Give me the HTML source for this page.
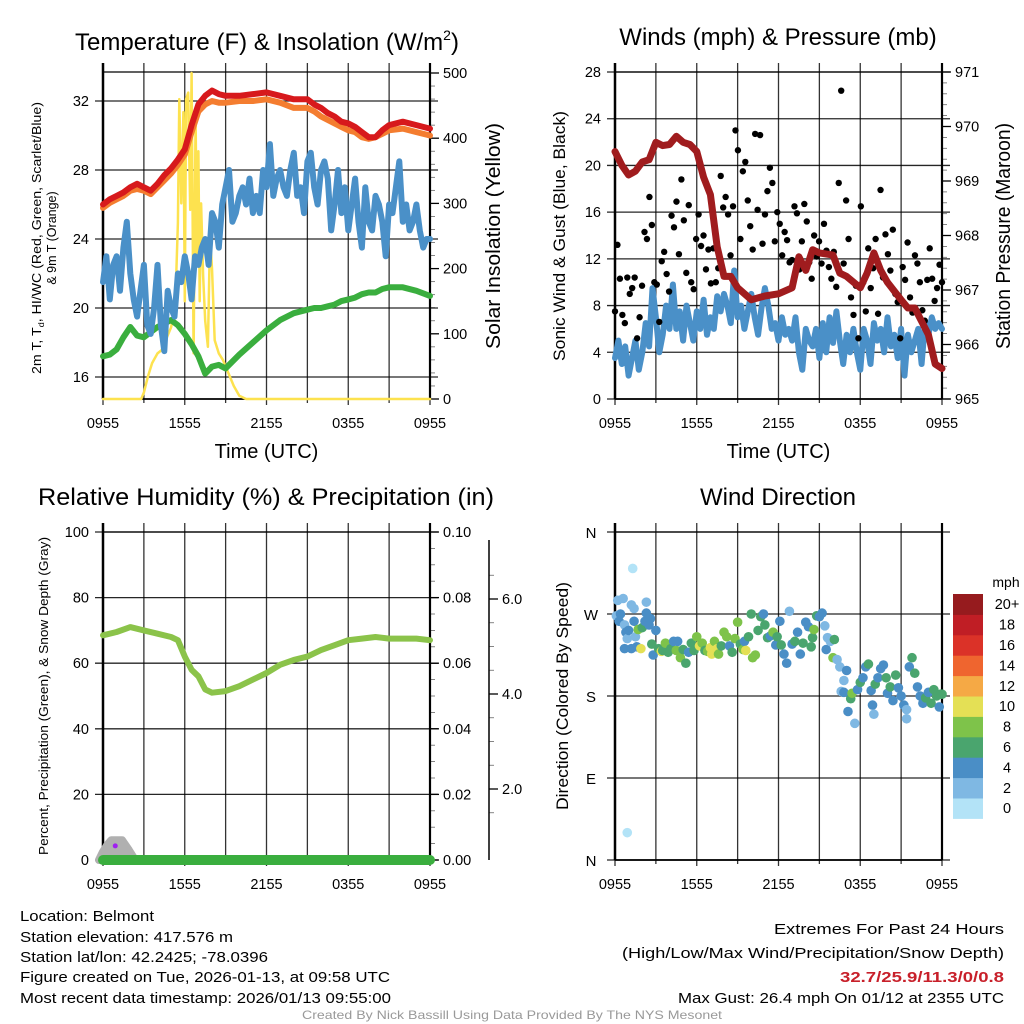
<!DOCTYPE html>
<html><head><meta charset="utf-8"><style>
html,body{margin:0;padding:0;background:#fff}
svg{display:block;font-family:"Liberation Sans",Arial,sans-serif}
</style></head><body>
<svg id="chart" width="1024" height="1024" viewBox="0 0 1024 1024" xmlns="http://www.w3.org/2000/svg">
<rect x="0" y="0" width="1024" height="1024" fill="#fff"/>
<text x="267" y="50" font-size="24" text-anchor="middle">Temperature (F) &amp; Insolation (W/m<tspan font-size="14" dy="-10">2</tspan><tspan dy="10">)</tspan></text>
<text x="778" y="45" font-size="24" text-anchor="middle">Winds (mph) &amp; Pressure (mb)</text>
<text x="266" y="505" font-size="24" text-anchor="middle" textLength="456" lengthAdjust="spacingAndGlyphs">Relative Humidity (%) &amp; Precipitation (in)</text>
<text x="778" y="505" font-size="24" text-anchor="middle">Wind Direction</text>
<g font-size="15">
<text x="20" y="921" textLength="134" lengthAdjust="spacingAndGlyphs">Location: Belmont</text>
<text x="20" y="942" textLength="213" lengthAdjust="spacingAndGlyphs">Station elevation: 417.576 m</text>
<text x="20" y="962" textLength="248" lengthAdjust="spacingAndGlyphs">Station lat/lon: 42.2425; -78.0396</text>
<text x="20" y="982" textLength="370" lengthAdjust="spacingAndGlyphs">Figure created on Tue, 2026-01-13, at 09:58 UTC</text>
<text x="20" y="1003" textLength="371" lengthAdjust="spacingAndGlyphs">Most recent data timestamp: 2026/01/13 09:55:00</text>
</g>
<g font-size="15" text-anchor="end">
<text x="1004" y="934" textLength="230" lengthAdjust="spacingAndGlyphs">Extremes For Past 24 Hours</text>
<text x="1004" y="958" textLength="382" lengthAdjust="spacingAndGlyphs">(High/Low/Max Wind/Precipitation/Snow Depth)</text>
<text x="1004" y="982" font-weight="bold" fill="#c8202a" textLength="164" lengthAdjust="spacingAndGlyphs">32.7/25.9/11.3/0/0.8</text>
<text x="1004" y="1003" textLength="326" lengthAdjust="spacingAndGlyphs">Max Gust: 26.4 mph On 01/12 at 2355 UTC</text>
</g>
<text x="512" y="1019" font-size="12" fill="#999" text-anchor="middle" textLength="420" lengthAdjust="spacingAndGlyphs">Created By Nick Bassill Using Data Provided By The NYS Mesonet</text>
</svg>
<script>
// ---------- DATA ----------
const timeTickLabels = ["0955","1555","2155","0355","0955"];
const tempTickLabels = [16,20,24,28,32];
const solarTickLabels = [0,100,200,300,400,500];
const windTickLabels = [0,4,8,12,16,20,24,28];
const pressTickLabels = [965,966,967,968,969,970,971];
const rhTickLabels = [0,20,40,60,80,100];
const precipTickLabels = ["0.00","0.02","0.04","0.06","0.08","0.10"];
const snowTickLabels = ["2.0","4.0","6.0"];
const dirTickLabels = ["N","E","S","W","N"];
const speedLegendLabels = ["0","2","4","6","8","10","12","14","16","18","20+"];
const speedColors = ["#b3e3f7","#7fb8e3","#4a8ec6","#4aa56e","#7ec34a","#e4e055","#f5a945","#ef652f","#db3228","#c01e25","#961b1e"];

const tempHours = [0,0.5,1,1.5,2,2.5,3,3.5,4,4.5,5,5.5,6,6.5,7,7.5,8,8.5,9,10,11,12,13,14,15,15.5,16,16.5,17,17.5,18,18.5,19,19.5,20,20.5,21,22,23,24];
const tempRed =    [26.0,26.3,26.5,26.7,27.0,27.2,27.0,26.8,27.2,27.7,28.1,28.6,29.2,30.6,31.8,32.3,32.6,32.4,32.3,32.3,32.4,32.5,32.3,32.1,32.1,31.8,31.6,31.3,31.1,30.8,30.7,30.5,30.2,29.9,29.9,30.3,30.6,30.8,30.6,30.4];
const tempOrange = [25.8,26.1,26.3,26.5,26.8,26.9,26.8,26.6,27.0,27.4,27.8,28.3,28.9,30.2,31.4,31.8,32.0,31.9,31.9,32.0,32.0,32.1,31.9,31.6,31.6,31.4,31.1,30.9,30.7,30.5,30.3,30.2,29.9,29.8,29.9,30.1,30.3,30.4,30.2,30.0];
const tempDew =    [17.2,17.3,17.6,18.3,18.9,18.4,18.3,18.6,18.9,19.1,19.3,19.0,18.5,17.9,17.2,16.2,16.6,16.7,16.5,17.3,18.0,18.7,19.3,19.7,19.9,20.0,20.0,20.1,20.2,20.4,20.5,20.6,20.8,20.9,20.9,21.1,21.2,21.2,21.0,20.7];
const tempWindChill = [21.5,23,20.5,22.5,23,21,23.5,25,22,20.5,19.5,21,22.5,19,18.5,20,22.5,19,17.5,21,20,19.5,22,21.5,23,22,20.5,23,22.5,23.5,24,22.5,25.5,25,23.5,26,27,28,25,25.5,26.5,27,26,27.5,25.5,26.5,25.5,28,27,29.5,26.5,27.5,28,27,26.5,28,29,26.5,27,25.5,28.5,29,27,26,28,28.5,27.5,24.5,26,28,25.5,27,24.5,26,27.5,25,23.5,27,25,24.5,26.5,26,25,23,26,25.5,27,28.5,25,26,24.5,25,26,24.5,23.5,24,24];
const solarHours = [0,2.8,3.0,3.3,3.6,4.0,4.3,4.6,5.0,5.3,5.5,5.6,5.75,5.9,6.0,6.1,6.25,6.4,6.5,6.65,6.8,6.9,7.0,7.1,7.2,7.35,7.5,7.7,7.85,8.0,8.2,8.5,8.8,9.2,9.6,10.0,10.5,11,24];
const solarValues = [0,0,10,35,55,70,75,90,110,140,270,460,300,440,150,460,470,290,500,70,430,210,380,150,300,190,120,80,250,200,90,70,60,40,20,5,0,0,0];

const sonicWind = [3.5,5,3,4.5,2,3.5,5,2.5,4,6.5,4.5,9.5,7,4,5.5,8,6,9.8,6,7.5,5,8,6.5,5,7.5,6,8.5,5.5,7,6,8.8,7.5,9,8,6.5,11,7,8,6,7.5,9,7,5.5,7.8,9.5,8,6,6.5,5,7,5.5,6,5,7,4,2.5,6,5,4.5,6,3.5,6.5,4,7,4.8,7.5,5,3,5.5,4,6,4,2.5,6,5,3,6.5,5,6,4,7,4.5,5.5,3.5,6,2,5.5,4,5,6,3,6.5,5.5,7,6,6.5,6];
const gustValues = [7.5,13.2,10.3,7.2,6.5,10.4,9.0,9.5,10.4,5.2,7.0,9.7,14.3,13.7,17.3,14.9,10.0,9.8,6.6,11.8,12.6,10.7,9.2,15.7,14.7,16.9,12.4,18.8,15.3,10.8,16.6,10.0,9.4,13.7,15.8,13.1,14.0,11.1,12.8,9.9,12.9,10.0,11.2,19.1,16.4,17.3,15.8,12.3,16.5,23.0,21.3,13.7,19.5,20.3,17.0,14.8,12.8,22.7,16.2,22.6,13.3,15.8,17.8,19.8,18.5,13.5,16.0,15.0,12.3,14.3,13.6,11.7,11.9,16.5,15.9,11.1,13.5,16.7,15.2,11.7,10.3,14.0,12.2,13.5,11.6,15.0,12.7,11.3,10.3,12.6,9.6,18.5,26.4,11.6,17.0,13.7,8.7,7.2,9.7,5.2,16.5,10.0,7.5,12.9,9.5,11.2,13.7,7.3,17.9,10.4,14.1,12.4,11.0,14.5,9.0,8.3,5.2,11.3,10.2,13.4,8.7,7.4,12.3,11.6,10.0,7.6,6.7,10.2,12.9,10.3,8.4,9.5,11.5,10.0];
const pressHours = [0,0.5,1,1.5,2,2.5,3,3.5,4,4.5,5,5.5,6,6.5,7,7.5,8,8.5,9,10,11,12,13,13.5,14,14.5,15,16,16.5,17,18,18.5,19,19.5,20,21,21.5,22,23,23.5,24];
const pressValues = [969.54,969.29,969.11,969.18,969.35,969.39,969.71,969.65,969.67,969.82,969.71,969.67,969.54,969.07,968.75,967.79,967.25,967.25,967.04,966.82,966.89,966.93,967.04,967.61,967.36,967.74,967.68,967.64,967.31,967.25,967.04,967.31,967.68,967.36,967.14,966.82,966.67,966.67,966.18,965.64,965.56];

const rhHours = [0,1,2,3,4,5,5.5,6,6.5,7,7.5,8,9,10,11,12,13,14,15,16,17,18,19,20,21,22,23,24];
const rhValues = [68.5,69.5,71,70,69,68,67,62,58,56,52,51,51.5,53,55,57,59.5,61,62,64,65.5,67,67.5,68,67.5,67.5,67.5,67];
const precipValues = [0,0,0,0,0];
const snowHours = [0,0.3,0.6,1.4,1.9,2.2];
const snowDepth = [2.5,4.5,6,6,3,1];

const dirHours = [0.1,0.2,0.3,0.4,0.6,0.7,0.8,0.9,0.7,1.0,1.2,1.2,1.3,1.4,1.4,1.5,1.6,1.7,1.9,2.0,2.2,2.3,2.3,2.5,2.6,2.7,2.8,3.0,3.2,3.4,3.5,3.7,3.9,4.1,4.3,4.5,4.6,4.8,5.0,5.2,5.4,5.6,5.8,6.0,6.2,6.4,6.6,6.8,7.0,7.1,7.3,7.5,7.6,7.8,8.0,8.2,8.4,8.6,8.8,9.0,9.2,9.4,9.5,9.6,9.8,10.0,10.1,10.3,10.5,10.7,10.9,11.0,11.2,11.4,11.6,11.8,11.9,12.1,12.2,12.4,12.6,12.8,13.0,13.2,13.4,13.6,13.8,14.0,14.2,14.4,14.5,14.6,14.8,15.0,15.2,15.4,15.5,15.6,15.8,16.0,16.1,16.3,16.5,16.6,16.8,16.8,17.0,17.1,17.3,17.4,17.6,17.8,18.0,18.2,18.4,18.6,18.8,18.9,19.0,19.1,19.3,19.5,19.7,19.9,20.0,20.2,20.4,20.6,20.8,21.0,21.2,21.4,21.4,21.6,21.8,22.0,22.2,22.4,22.6,22.8,23.0,23.2,23.4,23.6,23.8,23.9,24.0,0.9];
const dirDegrees = [268,285,262,270,287,258,250,243,232,252,280,232,320,276,262,245,234,253,232,255,262,271,283,258,265,237,225,252,232,229,230,238,228,232,240,230,240,222,231,216,228,238,230,245,235,238,230,229,233,226,240,232,226,235,250,245,235,228,243,261,237,231,240,230,245,270,222,225,252,267,270,258,244,246,250,236,245,262,236,226,216,273,237,240,250,226,238,261,256,234,244,253,268,267,271,257,231,244,240,222,242,220,212,185,197,184,208,163,177,183,150,187,195,200,212,215,186,170,160,193,200,210,214,200,183,190,175,203,189,180,170,165,155,212,222,205,190,180,172,178,184,172,187,180,168,182,182,30];
const dirSpeeds = [3,2,4,4,2,3,4,2,4,4,2,4,1.5,2,4,2,4,8,10,6,4,4,2,4,4,6,4,4,6,10,6,8,6,6,4,8,4,8,6,6,4,6,6,8,10,8,6,8,10,10,8,10,8,6,8,8,4,6,8,8,6,8,4,10,6,6,8,8,6,6,4,6,6,4,8,4,6,4,6,4,4,2,4,6,4,4,6,4,4,6,6,8,6,4,4,2,4,2,2,8,6,2,2,2,2,4,4,4,6,8,2,4,6,4,4,6,4,4,2,6,4,4,4,6,4,6,4,6,4,4,4,2,2,4,6,6,4,4,4,6,4,6,6,6,4,6,6,0.5];

// ---------- helpers ----------
const NS = "http://www.w3.org/2000/svg";
const svg = document.getElementById('chart');
function mk(tag, attrs, parent){
  const e = document.createElementNS(NS, tag);
  for (const k in attrs) e.setAttribute(k, attrs[k]);
  (parent||svg).appendChild(e);
  return e;
}
function lin(d0,d1,r0,r1){ return v => r0 + (v-d0)/(d1-d0)*(r1-r0); }
function pathD(xs, ys){ return xs.map((x,i)=>(i?'L':'M')+x.toFixed(1)+','+ys[i].toFixed(1)).join(''); }
function seqHours(n){ const a=[]; for(let i=0;i<n;i++) a.push(i*24/(n-1)); return a; }

const panels = [
  {id:'temperature', x0:103, x1:430, y0:72, y1:399},
  {id:'winds', x0:615, x1:942, y0:72, y1:399},
  {id:'humidity', x0:103, x1:430, y0:532, y1:860},
  {id:'direction', x0:615, x1:942, y0:532, y1:860}
];

function drawFrame(p, leftTicks, leftFmtY, showTimeLabels, showTimeTitle){
  const g = mk('g', {});
  
  
  const X = lin(0,24,p.x0,p.x1);
  for (let h=0; h<=24; h+=3){
    const ln = mk('line', {x1:X(h), x2:X(h), y1:p.y0-9, y2:p.y1+(h%6===0?6:4), stroke:'#000', 'stroke-width':1.3, 'stroke-opacity':0.8}, g);
    
    
  }
  leftTicks.forEach(v=>{
    const y = leftFmtY(v);
    const ln = mk('line', {x1:p.x0-8, x2:p.x1+8, y1:y, y2:y, stroke:'#000', 'stroke-width':1.3, 'stroke-opacity':0.85}, g);
    
    
  });
  const bl = mk('line', {x1:p.x0, x2:p.x0, y1:p.y0-9, y2:p.y1, stroke:'#000', 'stroke-width':2.5}, g);
  
  
  const br = mk('line', {x1:p.x1, x2:p.x1, y1:p.y0-9, y2:p.y1, stroke:'#000', 'stroke-width':2.2}, g);
  
  
  const bb = mk('line', {x1:p.x0, x2:p.x1, y1:p.y1, y2:p.y1, stroke:'#000', 'stroke-width':1.8}, g);
  
  
  const bt = mk('line', {x1:p.x0, x2:p.x1, y1:p.y0, y2:p.y0, stroke:'#000', 'stroke-width':1.3}, g);
  
  
  if (showTimeLabels){
    timeTickLabels.forEach((lab,i)=>{
      const t = mk('text', {x:X(i*6), y:p.y1+29, 'font-size':14.5, 'text-anchor':'middle'}, g);
      t.textContent = lab;
      
      
    });
  }
  if (showTimeTitle){
    const t = mk('text', {x:(p.x0+p.x1)/2, y:p.y1+59, 'font-size':20, 'text-anchor':'middle'}, g);
    t.textContent = 'Time (UTC)';
    
    
  }
  return X;
}
function leftLabels(p, ticks, Y, fmt){
  ticks.forEach(v=>{
    const t = mk('text', {x:p.x0-14, y:Y(v)+5, 'font-size':14.5, 'text-anchor':'end'});
    t.textContent = fmt ? fmt(v) : v;
    
    
  });
}
function rightAxis(p, ticks, Y, labels, minor, ax){
  const axX = ax || p.x1;
  ticks.forEach((v,i)=>{
    const l = mk('line', {x1:axX, x2:axX+9, y1:Y(v), y2:Y(v), stroke:'#000', 'stroke-width':1.3});
    
    
    const t = mk('text', {x:axX+13, y:Y(v)+5, 'font-size':14.5});
    t.textContent = labels[i];
    
    
  });
  minor.forEach(v=>{
    const l = mk('line', {x1:axX, x2:axX+5, y1:Y(v), y2:Y(v), stroke:'#000', 'stroke-width':0.8, 'stroke-opacity':0.6});
    
    
  });
}
function rotText(x, y, size, txt, name, len){
  const t = mk('text', {x:0, y:0, 'font-size':size, 'text-anchor':'middle', transform:`translate(${x},${y}) rotate(-90)`});
  if (len){ t.setAttribute('textLength', len); t.setAttribute('lengthAdjust','spacingAndGlyphs'); }
  t.textContent = txt;
  
  
  return t;
}
function line(xs, ys, color, w, name){
  const e = mk('path', {d:pathD(xs,ys), fill:'none', stroke:color, 'stroke-width':w, 'stroke-linejoin':'round', 'stroke-linecap':'round'});
  
  
  return e;
}

// ---------- Panel 1: Temperature ----------
(function(){
  const p = panels[0];
  const Y = lin(32,16,101,377);
  const S = lin(0,500,399,73);
  const X = drawFrame(p, tempTickLabels, Y, true, true);
  leftLabels(p, tempTickLabels, Y);
  const minor=[]; for(let v=20; v<=480; v+=20) if(v%100) minor.push(v);
  rightAxis(p, solarTickLabels, S, solarTickLabels, minor);
  const tl = mk('g', {}); 
  
  
  const a = mk('text', {x:0,y:0,'font-size':12.5,'text-anchor':'middle',transform:'translate(41,238) rotate(-90)',textLength:272,lengthAdjust:'spacingAndGlyphs'}, tl);
  a.innerHTML = '2m T, T<tspan font-size="8" dy="3">d</tspan><tspan dy="-3">, HI/WC (Red, Green, Scarlet/Blue)</tspan>';
  
  
  const b = mk('text', {x:0,y:0,'font-size':12.5,'text-anchor':'middle',transform:'translate(56,238) rotate(-90)'}, tl);
  b.textContent = '& 9m T (Orange)';
  
  
  rotText(500, 236, 20, 'Solar Insolation (Yellow)', 'solar-y-axis-title', 226);
  line(solarHours.map(X), solarValues.map(S), '#fde24f', 2.5, 'solar-insolation-line');
  line(tempHours.map(X), tempDew.map(Y), '#3aae3e', 6, 'dewpoint-line');
  const wh = seqHours(tempWindChill.length);
  line(wh.map(X), tempWindChill.map(Y), '#4a90c8', 6, 'wind-chill-line');
  line(tempHours.map(X), tempOrange.map(Y), '#f47d30', 6, 'temp-9m-line');
  line(tempHours.map(X), tempRed.map(Y), '#d7191c', 6, 'temp-2m-line');
})();

// ---------- Panel 2: Winds ----------
(function(){
  const p = panels[1];
  const Y = lin(0,28,399,72);
  const P = lin(965,971,399,72);
  const X = drawFrame(p, windTickLabels, Y, true, true);
  leftLabels(p, windTickLabels, Y);
  const minor=[]; for(let v=965.2; v<971; v+=0.2){ if(Math.abs(v-Math.round(v))>0.05) minor.push(v); }
  rightAxis(p, pressTickLabels, P, pressTickLabels, minor);
  rotText(565, 236, 17, 'Sonic Wind & Gust (Blue, Black)', 'wind-y-axis-title', 250);
  rotText(1010, 236, 20, 'Station Pressure (Maroon)', 'pressure-y-axis-title', 226);
  const sh = seqHours(sonicWind.length);
  line(sh.map(X), sonicWind.map(Y), '#4a90c8', 6, 'sonic-wind-line');
  const gh = seqHours(gustValues.length);
  const gg = mk('g', {});
  
  
  gustValues.forEach((v,i)=>{
    const c = mk('circle', {cx:X(gh[i]), cy:Y(v), r:3.2, fill:'#000'}, gg);
    
    
  });
  line(pressHours.map(X), pressValues.map(P), '#a01c1e', 7, 'pressure-line');
})();

// ---------- Panel 3: Humidity ----------
(function(){
  const p = panels[2];
  const Y = lin(0,100,860,532);
  const R = lin(0,0.1,860,532);
  const SN = lin(0,6,884,599);
  const X = drawFrame(p, rhTickLabels, Y, true, false);
  leftLabels(p, rhTickLabels, Y);
  const minor=[]; for(let v=0.005; v<0.1; v+=0.005){ if(Math.round(v*1000)%20) minor.push(v); }
  rightAxis(p, [0,0.02,0.04,0.06,0.08,0.1], R, precipTickLabels, minor);
  const ax = mk('line', {x1:489, x2:489, y1:540, y2:860, stroke:'#000', 'stroke-width':1.5});
  
  
  const smin=[]; for(let v=1.5; v<7; v+=0.5){ if(v%2) smin.push(v); }
  rightAxis({id:'snow'}, [2,4,6], SN, snowTickLabels, smin, 489);
  rotText(48, 696, 12.5, 'Percent, Precipitation (Green), & Snow Depth (Gray)', 'humidity-y-axis-title', 318);
  const sx = snowHours.map(X), sy = snowDepth.map(Y);
  const sd = mk('path', {d:'M'+(X(0)-4)+',860L'+sx.map((x,i)=>x.toFixed(1)+','+sy[i].toFixed(1)).join('L')+'L'+(X(2.3))+',860Z', fill:'#b0b0b0', stroke:'#b0b0b0', 'stroke-width':8, 'stroke-linejoin':'round'});
  
  
  line(rhHours.map(X), rhValues.map(Y), '#8bc34a', 6, 'relative-humidity-line');
  const ph = seqHours(precipValues.length);
  line(ph.map(X), precipValues.map(R), '#3aae3e', 10, 'precipitation-line');
  const pd = mk('circle', {cx:X(0.9), cy:Y(4.3), r:2.5, fill:'#a020f0'});
  
  
})();

// ---------- Panel 4: Direction ----------
(function(){
  const p = panels[3];
  const Y = lin(0,360,860,532);
  const X = drawFrame(p, [0,90,180,270,360], Y, true, false);
  dirTickLabels.forEach((lab,i)=>{
    const t = mk('text', {x:p.x0-24, y:Y(i*90)+6, 'font-size':15, 'text-anchor':'middle'});
    t.textContent = lab;
    
    
  });
  rotText(568, 696, 17, 'Direction (Colored By Speed)', 'direction-y-axis-title', 228);
  const g = mk('g', {});
  
  
  dirDegrees.forEach((d,i)=>{
    const bin = Math.min(10, Math.floor(dirSpeeds[i]/2));
    const c = mk('circle', {cx:X(dirHours[i]), cy:Y(d), r:4.8, fill:speedColors[bin]}, g);
    
    
  });
  // legend
  const lg = mk('g', {});
  
  
  const t = mk('text', {x:1006, y:587, 'font-size':14, 'text-anchor':'middle'}, lg);
  t.textContent = 'mph';
  
  
  const top=594, h=20.4;
  speedColors.forEach((c,i)=>{
    const y = top + (10-i)*h;
    const r = mk('rect', {x:953, y:y, width:30, height:h+0.5, fill:c}, lg);
    
    
    const tx = mk('text', {x:1007, y:y+h/2+5, 'font-size':14.5, 'text-anchor':'middle'}, lg);
    tx.textContent = speedLegendLabels[i];
    
    
  });
})();
</script>
</body></html>
